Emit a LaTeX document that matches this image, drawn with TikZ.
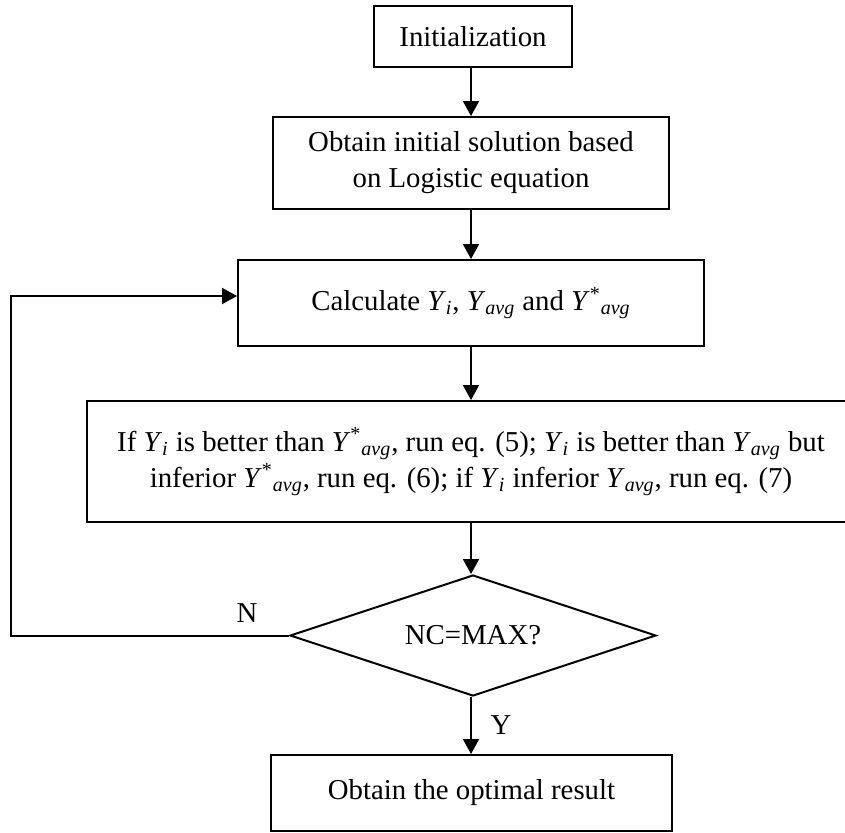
\documentclass[tikz,border=0pt]{standalone}
\usepackage{fontspec}
\setmainfont{Liberation Serif}
\usetikzlibrary{positioning, shapes.geometric, arrows.meta, calc}
\newcommand{\Ysub}[1]{\textit{Y}\textsubscript{\textit{#1}}}
\newcommand{\Ystar}[1]{\textit{Y}\textsuperscript{*}\textsubscript{\textit{#1}}}
\tikzset{
    procbox/.style={
        draw, line width=1pt, align=center, inner sep=0pt, anchor=center,
        font=\fontsize{14.4}{18}\selectfont
    },
    decision/.style={
        diamond, aspect=3, draw, line width=1pt, inner sep=0pt, anchor=center,
        minimum width=183pt, minimum height=60.5pt,
        font=\fontsize{14.4}{18}\selectfont
    },
    flowarrow/.style={
        -{Triangle[length=7.5pt, width=8pt]}, line width=1pt
    },
    branchlabel/.style={
        font=\fontsize{14.4}{18}\selectfont
    }
}

\begin{document}
\begin{tikzpicture}[x=0.5pt, y=-0.5pt]
        \useasboundingbox (0,0) rectangle (845,832);

        % ==========================================
        % BOXES
        % ==========================================
        \node[procbox, minimum width=99pt, minimum height=30.5pt] (init) at (473,36.5) {Initialization};
        \node[procbox, minimum width=198pt, minimum height=46pt] (obtain) at (471,163)
            {Obtain initial solution based\\on Logistic equation};
        \node[procbox, minimum width=233pt, minimum height=43pt] (calc) at (471,303)
            {Calculate \Ysub{i}, \Ysub{avg} and \Ystar{avg}};
        \node[procbox, minimum width=384pt, minimum height=60.5pt] (update) at (471,461.5)
            {If \Ysub{i} is better than \Ystar{avg}, run eq. (5); \Ysub{i} is better than \Ysub{avg} but\\
             inferior \Ystar{avg}, run eq. (6); if \Ysub{i} inferior \Ysub{avg}, run eq. (7)};
        \node[decision] (judge) at (473,635.5) {NC=MAX?};
        \node[procbox, minimum width=200.5pt, minimum height=38pt] (result) at (471.5,793)
            {Obtain the optimal result};

        % ==========================================
        % ARROWS
        % ==========================================
        \draw[flowarrow] (init.south -| 471,0) -- (obtain.north -| 471,0);
        \draw[flowarrow] (obtain.south) -- (calc.north);
        \draw[flowarrow] (calc.south) -- (update.north);
        \draw[flowarrow] (update.south) -- (update.south |- judge.north);
        \draw[flowarrow] (update.south |- judge.south) -- (result.north -| update.south)
            node[branchlabel, midway, right=6pt] (ylabel) {Y};

        % feedback loop
        \coordinate (fbtop) at (11,296);
        \draw[flowarrow] (judge.west) -| (fbtop) -- (calc.west |- fbtop);
        \node[branchlabel] (nlabel) at (247,613) {N};

    \end{tikzpicture}
\end{document}
